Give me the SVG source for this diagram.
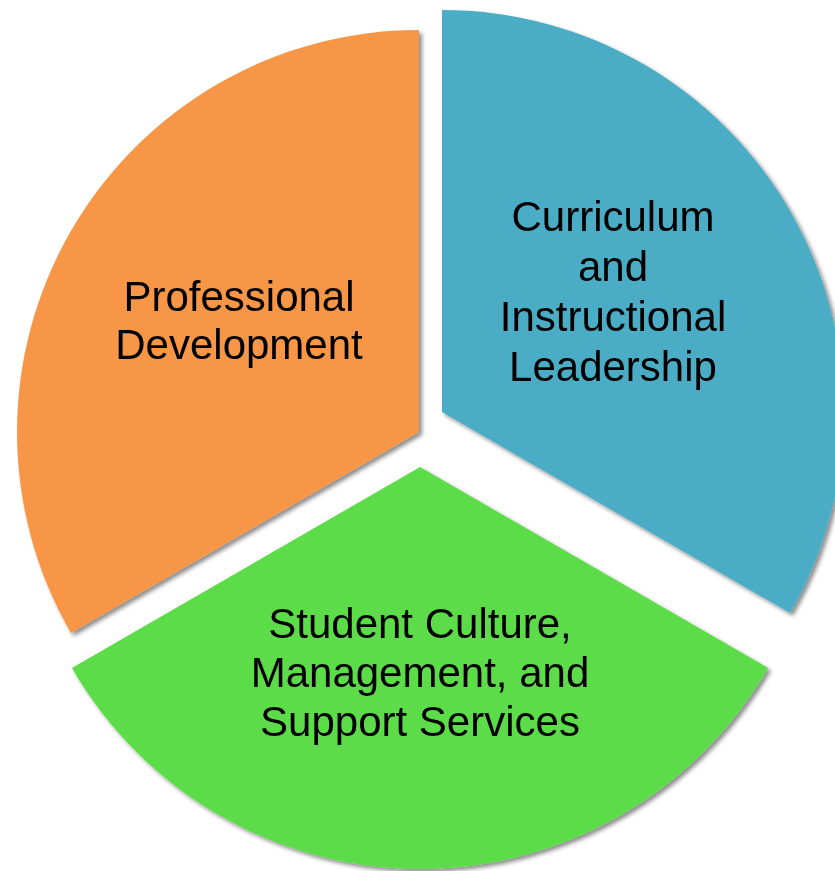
<svg xmlns="http://www.w3.org/2000/svg" width="835" height="871" viewBox="0 0 835 871">
  <defs>
    <filter id="shadow" x="-10%" y="-10%" width="120%" height="120%">
      <feGaussianBlur in="SourceAlpha" stdDeviation="2"/>
      <feOffset dx="3" dy="3" result="b"/>
      <feComponentTransfer><feFuncA type="linear" slope="0.45"/></feComponentTransfer>
      <feMerge><feMergeNode/><feMergeNode in="SourceGraphic"/></feMerge>
    </filter>
  </defs>
  <style>
    .lbl { font-family: "Liberation Sans", Arial, sans-serif; font-size: 42px; fill: #000; text-anchor: middle; }
  </style>
  <rect width="835" height="871" fill="#ffffff"/>

  <!-- Curriculum slice: -90deg to 30deg, centre (442,412) -->
  <g id="curriculum" filter="url(#shadow)">
    <path d="M442,412 L442,10 A402,402 0 0 1 790.1,613 Z" fill="#4BACC6"/>
    <text class="lbl" x="613" y="231">Curriculum</text>
    <text class="lbl" x="613" y="281">and</text>
    <text class="lbl" x="613" y="331">Instructional</text>
    <text class="lbl" x="613" y="381">Leadership</text>
  </g>

  <!-- Professional Development slice: 150deg to 270deg, centre (419,432) -->
  <g id="professional" filter="url(#shadow)">
    <path d="M419,432 L70.9,633 A402,402 0 0 1 419,30 Z" fill="#F79646"/>
    <text class="lbl" x="239" y="311">Professional</text>
    <text class="lbl" x="239" y="359">Development</text>
  </g>

  <!-- Student Culture slice: 30deg to 150deg, centre (420,467) -->
  <g id="student" filter="url(#shadow)">
    <path d="M420,467 L768.1,668 A402,402 0 0 1 71.9,668 Z" fill="#5DDC49"/>
    <text class="lbl" x="420" y="638">Student Culture,</text>
    <text class="lbl" x="420" y="687">Management, and</text>
    <text class="lbl" x="420" y="736">Support Services</text>
  </g>

  <g id="connectors"/>
</svg>
